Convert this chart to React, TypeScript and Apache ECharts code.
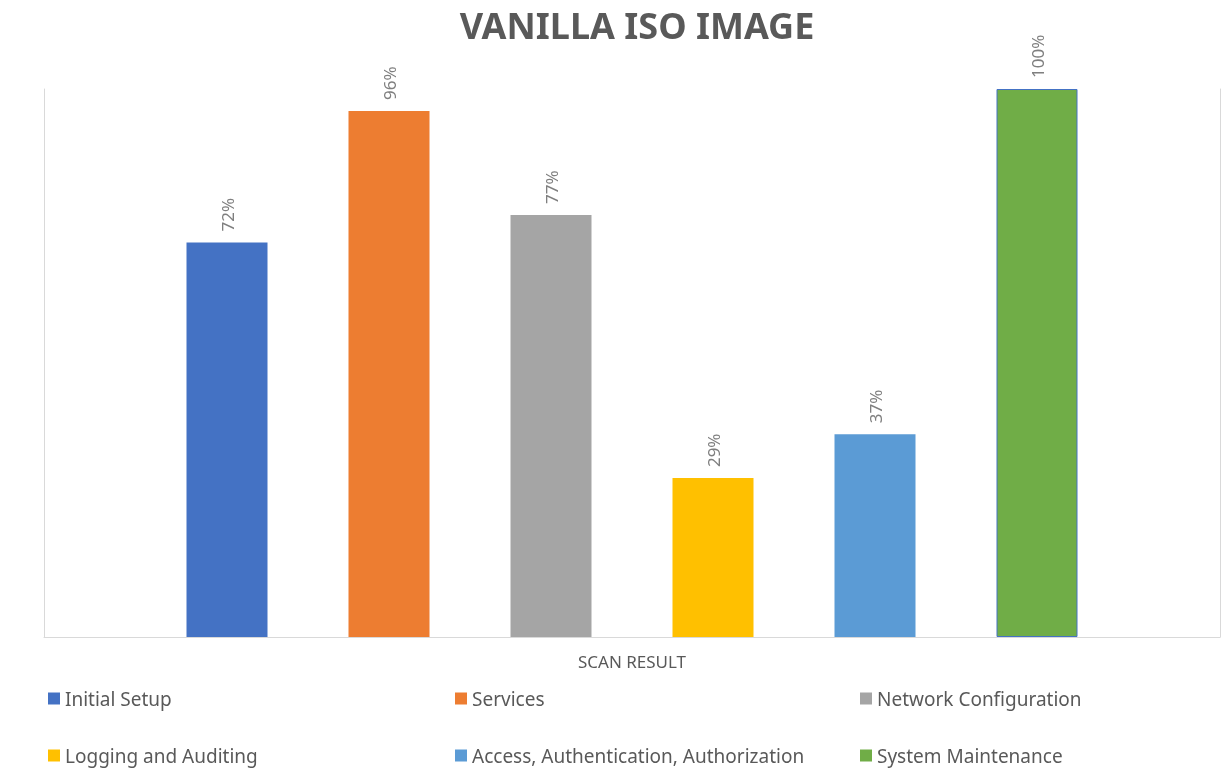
import React, { useEffect, useRef } from "react";
import * as echarts from "echarts";

const categories = ["SCAN RESULT"];
const seriesNames = [
  "Initial Setup",
  "Services",
  "Network Configuration",
  "Logging and Auditing",
  "Access, Authentication, Authorization",
  "System Maintenance",
];
const seriesValues = [72, 96, 77, 29, 37, 100];
const seriesColors = ["#4472C4", "#ED7D31", "#A5A5A5", "#FFC000", "#5B9BD5", "#70AD47"];
const legendPositions = [
  [43, 684],
  [450, 684],
  [855, 684],
  [43, 741],
  [450, 741],
  [855, 741],
];

export default function App() {
  const ref = useRef<HTMLDivElement>(null);
  useEffect(() => {
    if (!ref.current) return;
    const chart = echarts.init(ref.current, null, { renderer: "svg" });
    const font = "'Noto Sans', sans-serif";
    chart.setOption({
      animation: false,
      title: {
        text: "VANILLA ISO IMAGE",
        left: 632,
        textAlign: "center",
        top: 0,
        padding: [5, 5, 5, 5],
        textStyle: {
          fontFamily: font,
          fontSize: 36,
          lineHeight: 40,
          fontWeight: "bold",
          color: "#595959",
        },
      },
      legend: seriesNames.map((n, i) => ({
        data: [n],
        left: legendPositions[i][0],
        top: legendPositions[i][1],
        itemWidth: 12,
        itemHeight: 12,
        itemGap: 6,
        icon: "rect",
        itemStyle: { borderWidth: 0 },
        textStyle: { fontFamily: font, fontSize: 19, color: "#595959" },
      })),
      grid: { left: 44, right: 9, top: 89, bottom: 134, containLabel: false },
      xAxis: {
        type: "category",
        data: categories,
        axisLine: { show: true, lineStyle: { color: "#D9D9D9", width: 1 } },
        axisTick: { show: false },
        axisLabel: { fontFamily: font, fontSize: 17, color: "#595959", margin: 16 },
      },
      yAxis: [
        {
          type: "value",
          min: 0,
          max: 100,
          axisLabel: { show: false },
          splitLine: { show: false },
          axisTick: { show: false },
          axisLine: { show: true, lineStyle: { color: "#D9D9D9", width: 1 } },
        },
        {
          type: "value",
          position: "right",
          min: 0,
          max: 100,
          axisLabel: { show: false },
          splitLine: { show: false },
          axisTick: { show: false },
          axisLine: { show: true, lineStyle: { color: "#D9D9D9", width: 1 } },
        },
      ],
      series: seriesNames.map((n, i) => ({
        name: n,
        type: "bar",
        data: [seriesValues[i]],
        barWidth: 81,
        barGap: "100%",
        itemStyle: {
          color: seriesColors[i],
          borderColor: i === 5 ? "#4472C4" : undefined,
          borderWidth: i === 5 ? 1 : 0,
        },
        label: {
          show: true,
          position: "top",
          rotate: 90,
          align: "left",
          verticalAlign: "middle",
          distance: 11,
          formatter: "{c}%",
          fontFamily: font,
          fontSize: 17,
          color: "#7F7F7F",
        },
      })),
    });
    return () => chart.dispose();
  }, []);
  return (
    <div
      ref={ref}
      style={{ position: "fixed", left: 0, top: 0, width: 1229, height: 771 }}
    />
  );
}
